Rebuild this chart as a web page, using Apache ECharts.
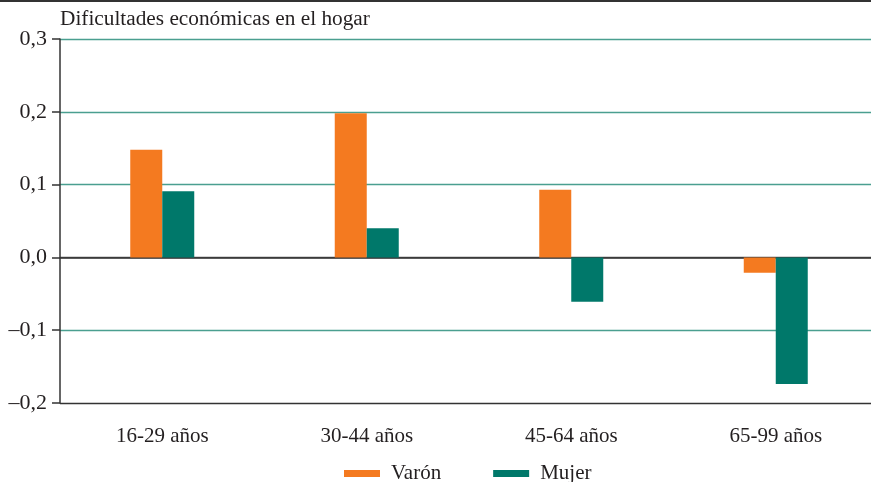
<!DOCTYPE html>
<html>
<head>
<meta charset="utf-8">
<script src="https://cdn.jsdelivr.net/npm/echarts@6/dist/echarts.min.js"></script>
<style>
  html, body { margin: 0; padding: 0; background: #fff; overflow: hidden; }
  /* plot runs a few px past the right edge of the picture */
  #chart { width: 878px; height: 482px; }
</style>
</head>
<body>
<div id="chart"></div>
<script>
var categories = ['16-29 años', '30-44 años', '45-64 años', '65-99 años'];
var varon = [0.148, 0.198, 0.093, -0.021];
var mujer = [0.091, 0.040, -0.061, -0.174];
var seriesNames = ['Varón', 'Mujer'];
var yTicks = { min: -0.2, max: 0.3, interval: 0.1 };

var serif = '"Liberation Serif", "DejaVu Serif", serif';
var textColor = '#231f20';
var grid = '#4a9f90';

function fmt(v) {
    return (Math.round(v * 10) / 10).toFixed(1).replace('.', ',').replace('-', '\u2013');
}

var chart = echarts.init(document.getElementById('chart'));
var option = {
    animation: false,
    backgroundColor: '#fff',
    title: {
        text: 'Dificultades económicas en el hogar',
        left: 55,
        top: 4,
        textStyle: { fontFamily: serif, fontSize: 21.3, fontWeight: 'normal', color: textColor }
    },
    graphic: [{
        type: 'rect',
        shape: { x: 0, y: 0, width: 878, height: 2 },
        style: { fill: '#333' }
    }],
    legend: {
        left: 339,
        top: 458,
        itemWidth: 36,
        itemHeight: 7,
        itemGap: 52,
        icon: 'rect',
        textStyle: { fontFamily: serif, fontSize: 21, color: textColor, padding: [0, 0, 0, 6] },
        data: seriesNames
    },
    grid: { left: 60, right: 0, top: 39, bottom: 79, containLabel: false },
    xAxis: {
        type: 'category',
        data: categories,
        axisLine: { lineStyle: { color: '#333', width: 1.5 } },
        axisTick: { length: 8, lineStyle: { color: '#333', width: 1.5 } },
        axisLabel: { fontFamily: serif, fontSize: 21, color: textColor, margin: 23 }
    },
    yAxis: {
        type: 'value',
        min: yTicks.min,
        max: yTicks.max,
        interval: yTicks.interval,
        axisLine: { show: true, lineStyle: { color: '#333', width: 1.5 } },
        axisTick: { show: true, length: 8, lineStyle: { color: '#333', width: 1.5 } },
        axisLabel: { fontFamily: serif, fontSize: 22, color: textColor, margin: 13, formatter: fmt },
        splitLine: {
            show: true,
            lineStyle: { color: ['#333', grid, '#555', grid, grid, grid], width: 1.3 }
        }
    },
    series: [{
        name: seriesNames[0],
        type: 'bar',
        data: varon,
        barWidth: 32,
        barGap: '0%',
        itemStyle: { color: '#f47a20' }
    }, {
        name: seriesNames[1],
        type: 'bar',
        data: mujer,
        barWidth: 32,
        itemStyle: { color: '#00786a' }
    }]
};
chart.setOption(option);
</script>
</body>
</html>
